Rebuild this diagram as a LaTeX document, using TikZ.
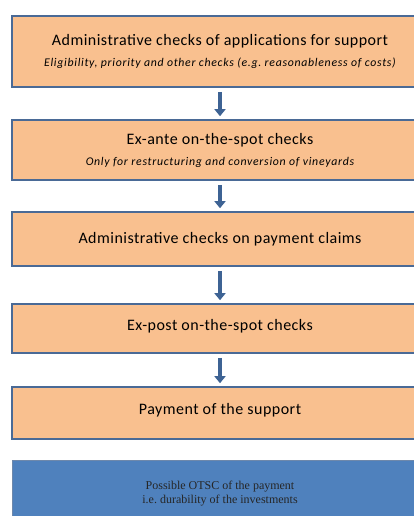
\documentclass[tikz,border=0pt]{standalone}
\usepackage{fontspec}
\setmainfont{Carlito}
\newfontfamily\timesfont{Liberation Serif}
\usetikzlibrary{arrows.meta}
\definecolor{boxfill}{HTML}{F9C08F}
\definecolor{boxline}{HTML}{4A6A96}
\definecolor{arrowblue}{HTML}{3E6394}
\definecolor{otscfill}{HTML}{4F81BD}
\newcommand{\subnote}[1]{{\fontsize{11.8}{14}\selectfont\itshape\addfontfeature{LetterSpace=6}#1}}

\begin{document}
\begin{tikzpicture}[x=1pt, y=1pt,
    stepbox/.style = {draw=boxline, line width=1.6pt, fill=boxfill, minimum width=416pt,
                      align=center, inner sep=0pt,
                      font=\fontsize{16}{21}\selectfont\addfontfeature{LetterSpace=3}},
    down/.style = {-{Triangle[width=11pt, length=7pt]}, draw=arrowblue, line width=4pt,
                   shorten <=4pt, shorten >=3pt}]
    \useasboundingbox (0,0) rectangle (414,-516);
    \clip (0,0) rectangle (414,-516);
    \node[stepbox, minimum height=71pt] (Vadm) at (220,-51.5)
        {Administrative checks of applications for support\\
         \subnote{Eligibility, priority and other checks (e.g.\ reasonableness of costs)}};
    \node[stepbox, minimum height=60pt] (Vante) at (220,-150)
        {Ex-ante on-the-spot checks\\
         \subnote{Only for restructuring and conversion of vineyards}};
    \node[stepbox, minimum height=54pt] (Vclaim) at (220,-239)
        {Administrative checks on payment claims};
    \node[stepbox, minimum height=49pt] (Vpost) at (220,-328.5)
        {\raisebox{7pt}{Ex-post on-the-spot checks}};
    \node[stepbox, minimum height=52pt] (Vpay) at (220,-413)
        {\raisebox{8pt}{Payment of the support}};
    \node[draw=boxline!80, line width=1pt, fill=otscfill, minimum width=416pt, minimum height=74pt,
          align=center, font=\timesfont\fontsize{12}{15}\selectfont, text=black!85] (Votsc) at (220,-497)
        {\raisebox{9pt}{\shortstack{Possible OTSC of the payment\\ i.e.\ durability of the investments}}};

    \draw[down] (Vadm) -- (Vante);
    \draw[down] (Vante) -- (Vclaim);
    \draw[down] (Vclaim) -- (Vpost);
    \draw[down] (Vpost) -- (Vpay);
\end{tikzpicture}
\end{document}
